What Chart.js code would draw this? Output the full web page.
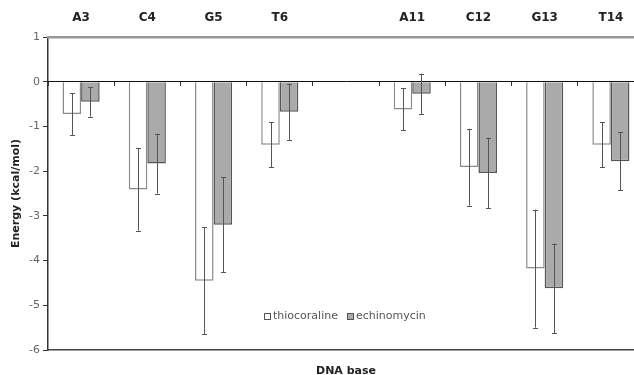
<!DOCTYPE html>
<html>
<head>
<meta charset="utf-8">
<script src="https://cdn.jsdelivr.net/npm/chart.js@4/dist/chart.umd.min.js"></script>
<style>
html,body{margin:0;padding:0;background:#fff;overflow:hidden;width:634px;height:375px;}
#wrap{position:absolute;left:0;top:0;width:660px;height:375px;}
</style>
</head>
<body>
<div id="wrap"><canvas id="c" width="660" height="375"></canvas></div>
<script>
const categories = ['A3','C4','G5','T6','','A11','C12','G13','T14'];
const seriesNames = ['thiocoraline','echinomycin'];
const thiocoraline = [-0.72,-2.41,-4.45,-1.41,null,-0.62,-1.91,-4.18,-1.41];
const thiocoralineErr = [0.47,0.92,1.19,0.50,null,0.47,0.86,1.32,0.50];
const echinomycin = [-0.45,-1.83,-3.20,-0.67,null,-0.27,-2.04,-4.62,-1.78];
const echinomycinErr = [0.33,0.67,1.06,0.63,null,0.45,0.79,1.00,0.65];
const yTicks = [1,0,-1,-2,-3,-4,-5,-6];
const yTitle = 'Energy (kcal/mol)';
const xTitle = 'DNA base';

const FONT = "'DejaVu Sans', Verdana, sans-serif";
const errors = [thiocoralineErr, echinomycinErr];

const errorBars = {
  id: 'errorBars',
  afterDatasetsDraw(chart) {
    const ctx = chart.ctx;
    const ys = chart.scales.y;
    ctx.save();
    ctx.strokeStyle = '#555';
    ctx.lineWidth = 1;
    chart.data.datasets.forEach((ds, di) => {
      const meta = chart.getDatasetMeta(di);
      meta.data.forEach((el, i) => {
        const v = ds.data[i], e = errors[di][i];
        if (v == null || e == null) return;
        const x = Math.round(el.x) + 0.5;
        const yt = ys.getPixelForValue(v + e);
        const yb = ys.getPixelForValue(v - e);
        ctx.beginPath();
        ctx.moveTo(x, yt); ctx.lineTo(x, yb);
        ctx.moveTo(x - 2.5, Math.round(yt) + 0.5); ctx.lineTo(x + 2.5, Math.round(yt) + 0.5);
        ctx.moveTo(x - 2.5, Math.round(yb) + 0.5); ctx.lineTo(x + 2.5, Math.round(yb) + 0.5);
        ctx.stroke();
      });
    });
    ctx.restore();
  }
};

const insideLegend = {
  id: 'insideLegend',
  afterDraw(chart) {
    const ctx = chart.ctx;
    const pos = [[264, 347], 316];
    ctx.save();
    ctx.font = '11px ' + FONT;
    ctx.textBaseline = 'middle';
    ctx.textAlign = 'left';
    chart.data.datasets.forEach((ds, di) => {
      const bx = pos[0][di];
      const by = pos[1];
      ctx.fillStyle = ds.backgroundColor;
      ctx.fillRect(bx, by - 3, 6, 6);
      ctx.strokeStyle = '#555';
      ctx.lineWidth = 1;
      ctx.strokeRect(bx + 0.5, by - 3 + 0.5, 6, 6);
      ctx.fillStyle = '#555';
      ctx.fillText(ds.label, bx + 9, by);
    });
    ctx.restore();
  }
};

new Chart(document.getElementById('c'), {
  type: 'bar',
  data: {
    labels: categories,
    datasets: [
      { label: seriesNames[0], data: thiocoraline, backgroundColor: '#ffffff', borderColor: '#8a8a8a', borderWidth: 1.5, categoryPercentage: 0.56, barPercentage: 1.0 },
      { label: seriesNames[1], data: echinomycin, backgroundColor: '#aaaaaa', borderColor: '#555555', borderWidth: 1.5, categoryPercentage: 0.56, barPercentage: 1.0 }
    ]
  },
  options: {
    responsive: false,
    animation: false,
    layout: { padding: { left: 0, right: 16, top: 0, bottom: 0 } },
    plugins: { legend: { display: false }, tooltip: { enabled: false } },
    scales: {
      y: {
        min: -6, max: 1,
        afterFit(s) { s.width = 48; },
        afterBuildTicks(s) { s.ticks = yTicks.map(v => ({ value: v })); },
        ticks: { color: '#666', font: { family: FONT, size: 11 }, padding: 3 },
        grid: { drawOnChartArea: false, drawTicks: true, tickLength: 5, color: '#333' },
        border: { display: true, color: '#333', width: 1.5 },
        title: { display: true, text: yTitle, color: '#222', font: { family: FONT, size: 11, weight: 'bold' }, padding: { top: 10, bottom: 0 } }
      },
      x: {
        position: 'bottom',
        afterFit(s) { s.height = 25; },
        ticks: { display: false },
        grid: { display: false, drawTicks: false },
        border: { display: true, color: '#444', width: 1.5 },
        title: { display: true, text: xTitle, color: '#222', font: { family: FONT, size: 11, weight: 'bold' }, padding: { top: 0, bottom: -3 } }
      },
      xTop: {
        type: 'category',
        axis: 'x',
        position: 'top',
        labels: categories,
        afterFit(s) { s.height = 37; },
        ticks: { color: '#222', font: { family: FONT, size: 12, weight: 'bold' }, padding: 12, maxRotation: 0, autoSkip: false },
        grid: { display: false, drawTicks: false },
        border: { display: true, color: '#999', width: 2.5 }
      },
      xZero: {
        type: 'category',
        axis: 'x',
        position: { y: 0 },
        labels: categories,
        ticks: { display: false },
        grid: { display: true, offset: true, drawOnChartArea: false, drawTicks: true, tickLength: 4, color: '#333' },
        border: { display: true, color: '#111', width: 1 }
      }
    }
  },
  plugins: [errorBars, insideLegend]
});
</script>
</body>
</html>
